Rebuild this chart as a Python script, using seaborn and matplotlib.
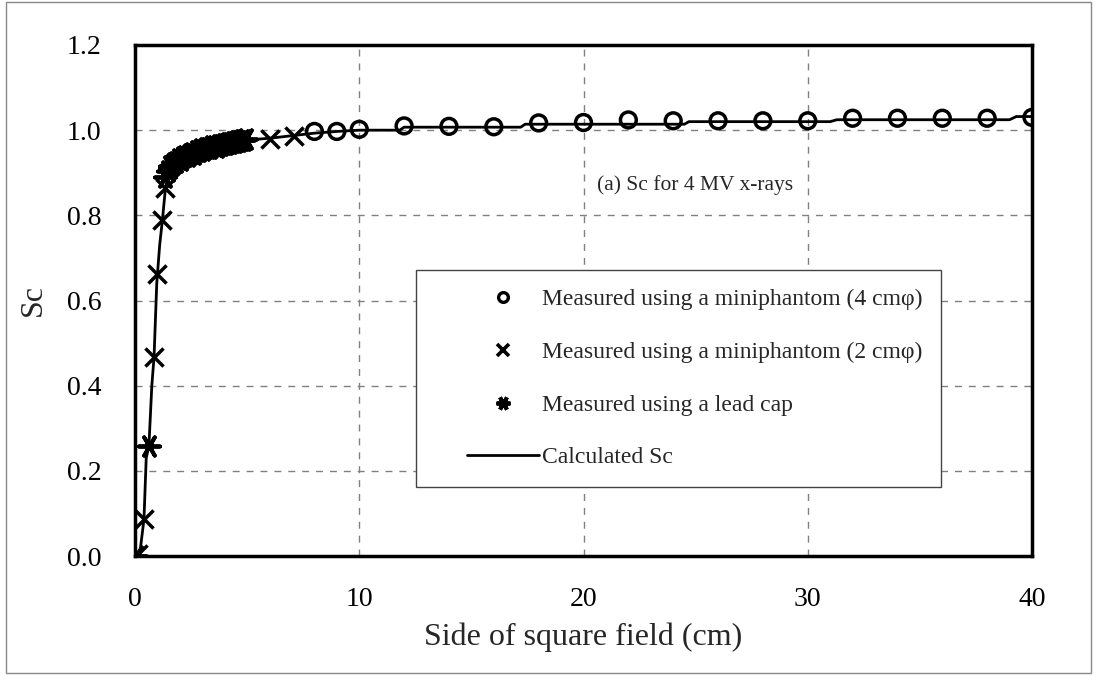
import matplotlib
matplotlib.use("Agg")
import matplotlib.pyplot as plt
import seaborn as sns
from matplotlib.lines import Line2D
from matplotlib.patches import Rectangle
from matplotlib.legend_handler import HandlerLine2D

# ---------------- data ----------------
mini4_x = [8, 9, 10, 12, 14, 16, 18, 20, 22, 24, 26, 28, 30, 32, 34, 36, 38, 40]
mini4_y = [0.997, 0.997, 1.002, 1.010, 1.009, 1.008, 1.017, 1.018, 1.024, 1.022,
           1.022, 1.022, 1.022, 1.028, 1.028, 1.028, 1.028, 1.030]

mini2_x = [0.15, 0.4, 0.85, 0.97, 1.22, 1.36, 6.0, 7.1]
mini2_y = [0.005, 0.086, 0.468, 0.662, 0.788, 0.865, 0.980, 0.987]

lead_x = [0.05, 0.62, 1.33, 1.45, 1.55, 1.65, 1.75, 1.85, 1.95, 2.05, 2.15, 2.25,
          2.35, 2.45, 2.55, 2.65, 2.75, 2.85, 2.95, 3.05, 3.15, 3.25, 3.35, 3.45,
          3.55, 3.65, 3.75, 3.85, 3.95, 4.05, 4.15, 4.25, 4.35, 4.45, 4.55, 4.65,
          4.75, 4.85, 4.95]
lead_y = [0.000, 0.258, 0.889, 0.905, 0.915, 0.918, 0.924, 0.926, 0.932, 0.931,
          0.937, 0.940, 0.939, 0.945, 0.946, 0.944, 0.951, 0.950, 0.955, 0.953,
          0.958, 0.959, 0.957, 0.962, 0.963, 0.961, 0.966, 0.965, 0.968, 0.967,
          0.971, 0.970, 0.973, 0.972, 0.975, 0.974, 0.977, 0.976, 0.979]

calc_x = [0.2, 0.4, 0.5, 0.62, 0.75, 0.85, 0.97, 1.1, 1.22, 1.36, 1.5, 1.7, 2.0,
          2.5, 3.0, 3.5, 4.0, 4.5, 5.0, 6.0, 7.0, 8.0, 9.0, 10.0, 11.8, 12.0,
          17.2, 17.4, 24.5, 24.7, 31.0, 31.3, 39.0, 39.3, 40.0]
calc_y = [0.0, 0.086, 0.23, 0.258, 0.40, 0.468, 0.64, 0.73, 0.788, 0.865, 0.90,
          0.915, 0.930, 0.945, 0.955, 0.962, 0.968, 0.973, 0.977, 0.981, 0.987,
          0.993, 0.997, 1.000, 1.000, 1.007, 1.007, 1.014, 1.014, 1.020, 1.020,
          1.0245, 1.0245, 1.032, 1.032]

x_ticks = [0, 10, 20, 30, 40]
y_ticks = [0.0, 0.2, 0.4, 0.6, 0.8, 1.0, 1.2]

labels = ["Measured using a miniphantom (4 cm\u03c6)",
          "Measured using a miniphantom (2 cm\u03c6)",
          "Measured using a lead cap",
          "Calculated Sc"]
annotation = "(a) Sc for 4 MV x-rays"

# ---------------- style ----------------
sns.set_theme(style="white")
plt.rcParams["font.family"] = ["Liberation Serif", "DejaVu Serif"]

W, H = 1098, 675
fig = plt.figure(figsize=(W / 100, H / 100), dpi=100)
ax = fig.add_axes([135 / W, 1 - 556 / H, (1032 - 135) / W, (556 - 45) / H])

lead_marker = (6, 2, 90)

sns.lineplot(x=calc_x, y=calc_y, ax=ax, color="black", linewidth=2.0,
             estimator=None, sort=False, zorder=3)
sns.scatterplot(x=mini4_x, y=mini4_y, ax=ax, marker="o", s=130,
                facecolors="none", edgecolor="black", linewidth=2.5, zorder=4)
sns.scatterplot(x=mini2_x, y=mini2_y, ax=ax, marker="x", s=170,
                color="black", linewidth=2.5, zorder=4)
sns.scatterplot(x=lead_x, y=lead_y, ax=ax, marker=lead_marker, s=230,
                color="black", linewidth=2.8, zorder=4)

ax.set_xlim(0, 40)
ax.set_ylim(0, 1.2)
ax.set_xticks(x_ticks)
ax.set_yticks(y_ticks)
ax.set_xticklabels([str(t) for t in x_ticks])
ax.set_yticklabels([f"{t:.1f}" for t in y_ticks])
ax.tick_params(axis="both", direction="in", length=4, width=1, color="#555555",
               labelsize=20, colors="black")
ax.tick_params(axis="y", pad=24)
ax.tick_params(axis="x", pad=22)
ax.tick_params(axis="both", color="#555555")

ax.grid(True, color="#808080", linestyle=(0, (5, 5)), linewidth=1.0)
for s in ax.spines.values():
    s.set_visible(True)
    s.set_color("black")
    s.set_linewidth(2.5)

ax.set_xlabel("Side of square field (cm)", fontsize=23, labelpad=8)
ax.set_ylabel("Sc", fontsize=23, labelpad=14)

ax.text(20.6, 0.87, annotation, fontsize=15.5, va="center", ha="left")

handles = [
    Line2D([], [], linestyle="none", marker="o", markersize=7, markerfacecolor="none",
           markeredgecolor="black", markeredgewidth=2.4),
    Line2D([], [], linestyle="none", marker="x", markersize=8, color="black",
           markeredgewidth=2.6),
    Line2D([], [], linestyle="none", marker=lead_marker, markersize=10, color="black",
           markeredgewidth=2.8),
    Line2D([], [], color="black", linewidth=2.0),
]
hmap = {h: HandlerLine2D(xpad=1.35) for h in handles}
leg = ax.legend(handles, labels, loc="upper left", handler_map=hmap,
                bbox_to_anchor=(416 / W, 1 - 270 / H), bbox_transform=fig.transFigure,
                frameon=True, fancybox=False, framealpha=1, edgecolor="#444444",
                fontsize=17, labelspacing=1.32, handlelength=4.4, handletextpad=0.12,
                borderpad=0.8, borderaxespad=0)
leg.get_frame().set_linewidth(1.0)

fig.patches.append(Rectangle((6 / W, 2 / H), (1091 - 6) / W, (673 - 2) / H,
                             transform=fig.transFigure, fill=False,
                             edgecolor="#888888", linewidth=1.0))

fig.savefig("out.png", dpi=100, facecolor="white")
